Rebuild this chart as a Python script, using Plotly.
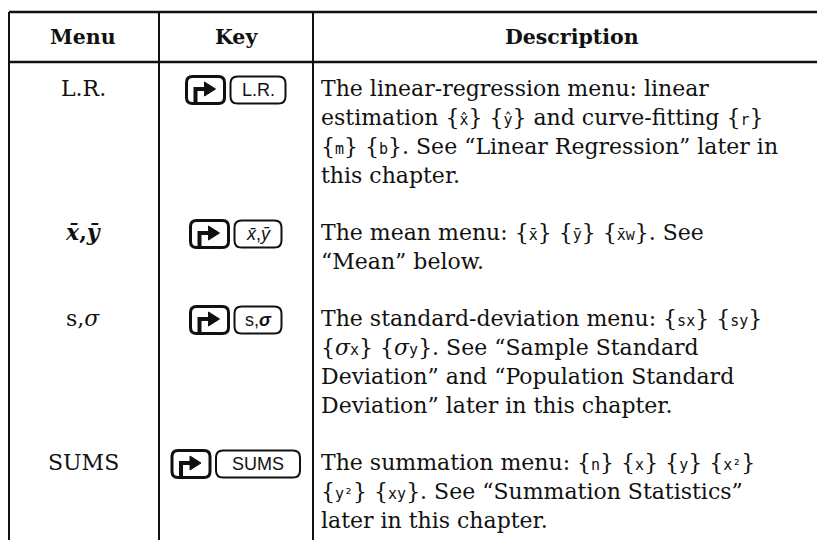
import re
import plotly.graph_objects as go

# ---------------- data ----------------
headers = ["Menu", "Key", "Description"]
menus = ["L.R.", "<b><i>x̄</i>,<i>ȳ</i></b>", "s,<i>σ</i>", "SUMS"]
key_labels = ["L.R.", "<i>x̄</i>,<i>ȳ</i>", "s,<b><i>σ</i></b>", "SUMS"]
desc_row1 = ["The linear-regression menu: linear",
             "estimation {x̂} {ŷ} and curve-fitting {r}",
             "{m} {b}. See “Linear Regression” later in",
             "this chapter."]
desc_row2 = ["The mean menu: {x̄} {ȳ} {x̄w}. See",
             "“Mean” below."]
desc_row3 = ["The standard-deviation menu: {sx} {sy}",
             "{σx} {σy}. See “Sample Standard",
             "Deviation” and “Population Standard",
             "Deviation” later in this chapter."]
desc_row4 = ["The summation menu: {n} {x} {y} {x²}",
             "{y²} {xy}. See “Summation Statistics”",
             "later in this chapter."]
descriptions = [desc_row1, desc_row2, desc_row3, desc_row4]

# ---------------- layout / style ----------------
# The page body has an 8px margin, so the figure is 8px smaller and the
# axes run in screen pixels from 8 to the window edge.
W, H, PAD = 825, 540, 8
SERIF = "DejaVu Serif"
SANS = "Liberation Sans"
FS = 22
INK = "#111111"
col_x = [9, 159, 313]
right_x = 831
top_y, head_y = 12, 62
line_h, row_gap, first_y = 29, 57, 88
key_box_w = [55, 47, 47, 84]

def lcd(s):
    out = []
    for ch in s:
        if ch == "σ":
            out.append("<i>σ</i>")
        else:
            out.append(f"<span style='font-family:DejaVu Sans Mono;font-size:15px'>{ch}</span>")
    return "".join(out)

def fmt(line):
    return re.sub(r"\{([^}]*)\}", lambda m: "{" + lcd(m.group(1)) + "}", line)

def rrect(x0, y0, x1, y1, r):
    return (f"M {x0+r},{y0} L {x1-r},{y0} Q {x1},{y0} {x1},{y0+r} "
            f"L {x1},{y1-r} Q {x1},{y1} {x1-r},{y1} L {x0+r},{y1} "
            f"Q {x0},{y1} {x0},{y1-r} L {x0},{y0+r} Q {x0},{y0} {x0+r},{y0} Z")

fig = go.Figure()
shapes, ann = [], []

# grid lines
for y in (top_y, head_y):
    shapes.append(dict(type="line", x0=col_x[0], x1=W, y0=y, y1=y,
                       line=dict(color=INK, width=2.5)))
for x in col_x:
    shapes.append(dict(type="line", x0=x, x1=x, y0=top_y, y1=H,
                       line=dict(color=INK, width=2)))

# headers
hx = [(7 + col_x[1]) / 2, (col_x[1] + col_x[2]) / 2, (col_x[2] + right_x) / 2]
for t, x in zip(headers, hx):
    ann.append(dict(x=x, y=(top_y + head_y) / 2, text=f"<b>{t}</b>", showarrow=False,
                    xanchor="center", yanchor="middle",
                    font=dict(family=SERIF, size=20.5, color=INK)))

# rows
y = first_y
for i, lines in enumerate(descriptions):
    ann.append(dict(x=hx[0], y=y, text=menus[i], showarrow=False, xanchor="center",
                    yanchor="middle", font=dict(family=SERIF, size=FS, color=INK)))
    # key group
    sw, bh, gap = 38, 27, 6
    total = sw + gap + key_box_w[i]
    gx0 = hx[1] - total / 2
    by0, by1 = y - bh / 2 + 2, y + bh / 2 + 2
    shapes.append(dict(type="path", path=rrect(gx0, by0, gx0 + sw, by1, 6),
                       line=dict(color=INK, width=3)))
    cy = (by0 + by1) / 2
    shapes.append(dict(type="path",
                       path=f"M {gx0+9},{by1} L {gx0+9},{cy-1} L {gx0+20},{cy-1}",
                       line=dict(color=INK, width=4)))
    shapes.append(dict(type="path",
                       path=f"M {gx0+18},{cy-8} L {gx0+29},{cy-1} L {gx0+18},{cy+6} Z",
                       fillcolor=INK, line=dict(color=INK, width=1)))
    kx0 = gx0 + sw + gap
    shapes.append(dict(type="path", path=rrect(kx0, by0, kx0 + key_box_w[i], by1, 7),
                       line=dict(color=INK, width=2)))
    ann.append(dict(x=kx0 + key_box_w[i] / 2, y=cy, text=key_labels[i], showarrow=False,
                    xanchor="center", yanchor="middle",
                    font=dict(family=SANS, size=18, color=INK)))
    for j, ln in enumerate(lines):
        ann.append(dict(x=col_x[2] + 6, y=y + j * line_h, text=fmt(ln), showarrow=False,
                        xanchor="left", yanchor="middle",
                        font=dict(family=SERIF, size=FS, color=INK)))
    y += (len(lines) - 1) * line_h + row_gap

fig.update_layout(width=W - PAD, height=H - PAD, margin=dict(l=0, r=0, t=0, b=0),
                  paper_bgcolor="white", plot_bgcolor="white",
                  xaxis=dict(range=[PAD, W], visible=False, fixedrange=True),
                  yaxis=dict(range=[H, PAD], visible=False, fixedrange=True),
                  shapes=shapes, annotations=ann, showlegend=False)
fig.write_html("out.html")
